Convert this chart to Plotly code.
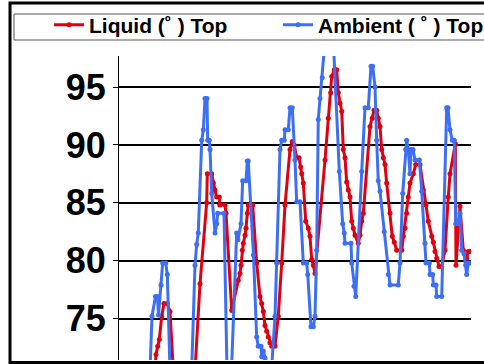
import plotly.graph_objects as go

# Time axis (hours) and temperatures
ambient_t = [7.75, 8.25, 9.12, 9.62, 9.88, 10.5, 10.92, 11.68, 12.08, 12.75, 15.25, 18.12,
             19.0, 19.42, 19.82, 20.68, 21.08, 21.5, 22.0, 22.18, 22.58, 22.75, 23.18, 24.0,
             24.42, 24.68, 26.25, 27.0, 28.12, 29.42, 29.75, 30.5, 30.92, 31.75, 32.08, 32.32,
             33.62, 34.42, 34.82, 35.5, 35.68, 36.08, 36.5, 37.75, 38.12, 39.0, 39.42, 40.25,
             40.68, 41.32, 41.5, 42.32, 42.75, 43.32, 44.0, 44.42, 45.25, 46.08, 46.92, 47.18,
             48.0, 48.58, 49.0, 49.42, 49.82, 50.25, 50.82, 51.5, 53.58, 55.08, 55.92, 56.32,
             56.5, 58.0, 58.18, 58.75, 59.18, 60.68, 61.5, 62.32, 63.0, 63.42, 64.0, 64.42,
             64.82, 65.25, 66.32, 67.32, 67.75, 69.82, 70.25, 70.92, 71.68, 71.92, 72.32, 72.75,
             73.0, 73.5, 74.0, 75.08, 75.68, 76.5, 76.75, 77.58, 77.75, 78.42, 78.58, 79.25,
             79.42, 80.68, 81.92, 82.25, 82.75, 83.32, 83.82, 84.18, 84.75, 85.25, 85.68, 86.25,
             86.68, 86.92, 87.32, 87.92]
ambient_v = [70.5, 75.2, 76.9, 76.9, 75.3, 77.9, 79.8, 79.8, 78.8, 70.5, 69.5, 70.0,
             79.6, 81.4, 82.4, 90.4, 91.3, 94.0, 94.0, 90.4, 90.4, 89.6, 85.8, 82.4,
             83.2, 84.1, 84.1, 70.5, 70.5, 82.4, 81.8, 83.2, 86.9, 86.9, 88.6, 88.6,
             80.5, 73.4, 72.6, 72.6, 71.7, 72.2, 71.6, 70.5, 70.5, 75.2, 79.8, 89.6,
             90.4, 90.4, 91.3, 91.3, 93.2, 93.2, 88.7, 85.1, 85.1, 79.8, 79.8, 78.8,
             74.3, 74.3, 75.2, 80.9, 92.2, 94.0, 95.8, 99.0, 99.0, 87.7, 83.2, 82.4,
             81.5, 81.5, 79.8, 77.8, 76.9, 87.7, 93.2, 93.2, 96.8, 96.8, 95.0, 90.4,
             86.9, 86.0, 82.5, 78.8, 77.9, 77.9, 79.8, 85.8, 89.6, 90.4, 89.6, 87.5,
             89.6, 89.6, 88.7, 88.7, 86.0, 81.5, 79.8, 79.8, 78.8, 78.8, 77.9, 77.9,
             76.9, 76.9, 93.2, 93.2, 91.3, 90.4, 90.4, 83.2, 83.2, 84.1, 80.9, 80.6,
             79.6, 78.8, 79.8, 79.8]

liquid_t = [9.0, 9.25, 9.68, 10.08, 10.68, 11.25, 12.08, 12.75, 13.58, 16.25, 19.0, 20.25,
            21.92, 22.08, 23.18, 23.58, 24.0, 24.42, 25.08, 25.18, 26.5, 26.75, 28.18, 29.82,
            30.25, 30.5, 30.82, 31.08, 31.5, 31.75, 32.08, 32.32, 33.42, 34.42, 35.25, 35.68,
            36.08, 36.5, 36.92, 37.32, 37.75, 38.18, 39.0, 39.82, 40.68, 41.5, 42.75, 43.32,
            43.82, 44.42, 45.0, 45.42, 45.68, 46.08, 46.68, 47.32, 47.75, 48.18, 48.58, 49.0,
            51.5, 52.32, 52.92, 53.18, 53.82, 54.42, 54.82, 55.25, 55.68, 56.08, 56.5, 56.92,
            57.32, 57.75, 58.18, 58.58, 59.0, 59.82, 60.25, 60.68, 61.08, 62.75, 63.32, 63.75,
            64.42, 64.82, 65.25, 65.68, 66.08, 66.5, 66.92, 67.75, 68.32, 68.82, 69.42, 70.68,
            71.08, 71.5, 71.92, 72.32, 72.75, 73.58, 74.18, 75.25, 76.08, 76.75, 77.32, 78.18,
            78.58, 79.0, 79.42, 80.0, 80.68, 81.5, 82.32, 82.75, 84.08, 84.25, 85.25, 86.08,
            86.92, 87.32, 87.92]
liquid_v = [70.5, 71.9, 72.6, 73.2, 75.2, 76.3, 76.3, 75.6, 70.5, 69.5, 70.5, 78.0,
            85.0, 87.5, 87.5, 86.7, 86.1, 85.5, 85.5, 84.8, 84.8, 84.1, 75.7, 78.3,
            78.9, 79.6, 80.9, 81.5, 82.2, 82.8, 84.1, 84.8, 84.8, 79.8, 76.9, 76.3,
            75.6, 74.4, 73.9, 73.4, 72.9, 72.6, 72.6, 75.2, 79.8, 84.8, 89.6, 90.3,
            90.0, 88.9, 88.9, 88.1, 87.5, 86.7, 83.4, 82.8, 82.1, 80.1, 79.6, 78.9,
            88.7, 92.3, 94.5, 95.9, 96.5, 96.5, 94.5, 93.6, 92.9, 89.6, 88.9, 86.8,
            86.1, 85.5, 83.4, 82.8, 82.2, 81.5, 82.2, 83.4, 84.1, 91.6, 92.3, 93.0,
            93.0, 92.3, 91.6, 89.6, 88.9, 88.3, 86.7, 84.1, 82.1, 81.6, 80.9, 80.9,
            82.1, 82.8, 84.1, 85.5, 86.7, 87.5, 88.3, 88.3, 86.1, 84.8, 83.4, 82.1,
            81.6, 80.8, 80.2, 79.5, 79.5, 80.9, 85.5, 87.5, 90.1, 79.6, 84.7, 80.9,
            80.2, 80.8, 80.8]

y_ticks = [75, 80, 85, 90, 95]
names = ["Liquid (˚ ) Top", "Ambient ( ˚ ) Top"]

RED = "#e00010"
BLUE = "#3d6ff5"
FONT = "Liberation Sans, Arial, sans-serif"

fig = go.Figure()
fig.add_trace(go.Scatter(x=liquid_t, y=liquid_v, name=names[0], mode="lines+markers",
                         line=dict(color=RED, width=3), marker=dict(color=RED, size=5)))
fig.add_trace(go.Scatter(x=ambient_t, y=ambient_v, name=names[1], mode="lines+markers",
                         line=dict(color=BLUE, width=3), marker=dict(color=BLUE, size=5)))

W, H = 484, 364
L, R, T, B = 119, 13, 56, 4
pw, ph = W - L - R, H - T - B

def px(x):
    return (x - L) / pw

def py(y):
    return (H - B - y) / ph

fig.update_layout(
    width=W, height=H,
    margin=dict(l=L, r=R, t=T, b=B, pad=0, autoexpand=False),
    paper_bgcolor="white", plot_bgcolor="white",
    font=dict(family=FONT, color="black"),
    showlegend=True,
    legend=dict(orientation="h", x=px(49), xanchor="left", y=py(25), yanchor="middle",
                font=dict(family=FONT, size=21, color="black", weight="bold"),
                bgcolor="rgba(0,0,0,0)", borderwidth=0,
                entrywidth=184, entrywidthmode="pixels", traceorder="normal"),
    xaxis=dict(range=[0, 88], showgrid=False, zeroline=False, showline=False,
               showticklabels=False, ticks="", automargin=False),
    yaxis=dict(range=[71.42, 97.68], tickvals=y_ticks, ticktext=[str(v) for v in y_ticks],
               showgrid=True, gridcolor="black", gridwidth=1.5, zeroline=False,
               showline=True, linecolor="black", linewidth=1, automargin=False,
               ticks="outside", ticklen=5, tickcolor="black", tickwidth=1,
               tickfont=dict(family=FONT, size=36, color="black", weight="bold")),
    shapes=[
        dict(type="rect", xref="paper", yref="paper", x0=px(14), x1=px(492), y0=py(40), y1=py(14),
             line=dict(color="#555555", width=1), fillcolor="rgba(0,0,0,0)", layer="below"),
        dict(type="rect", xref="paper", yref="paper", x0=px(10), x1=px(495), y0=py(362.5), y1=py(3),
             line=dict(color="black", width=3), fillcolor="rgba(0,0,0,0)", layer="above"),
    ],
)

fig.write_html("out.html", config={"displayModeBar": False},
               post_script="document.body.style.margin='0px';document.body.style.overflow='hidden';")
